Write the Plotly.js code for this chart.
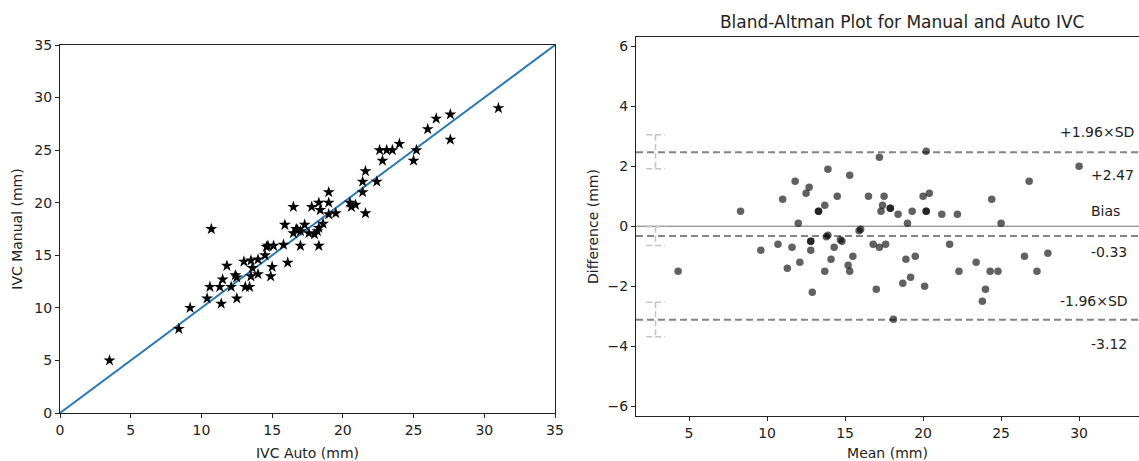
<!DOCTYPE html>
<html>
<head>
<meta charset="utf-8">
<script src="https://cdn.plot.ly/plotly-3.0.1.min.js"></script>
<style>html,body{margin:0;padding:0;background:#fff;}#chart{width:1139px;height:461px;}</style>
</head>
<body>
<div id="chart"></div>
<script>
// Left panel: IVC Auto vs IVC Manual (mm)
const autoVals = [3.5, 8.4, 9.2, 10.7, 10.4, 11.4, 10.6, 11.3, 11.5, 11.8, 12.1, 12.5, 12.4, 12.5, 13.0, 13.1, 13.4, 13.5, 13.5, 13.6, 14.0, 14.0, 14.6, 14.7, 15.1, 14.5, 14.9, 15.0, 15.8, 16.1, 15.9, 16.5, 16.5, 16.8, 17.0, 17.3, 17.6, 17.8, 18.3, 18.4, 19.0, 19.0, 19.5, 19.0, 18.0, 18.2, 18.3, 18.3, 18.6, 20.5, 20.6, 20.9, 21.6, 21.4, 21.4, 21.6, 22.4, 22.6, 23.1, 23.5, 22.8, 24.0, 25.2, 25.0, 26.0, 26.6, 27.6, 27.6, 31.0, 17.0, 16.7];
const manualVals = [5.0, 8.0, 10.0, 17.5, 10.9, 10.4, 12.0, 12.0, 12.7, 14.0, 12.0, 10.9, 13.1, 12.9, 14.4, 12.0, 12.0, 13.0, 14.5, 13.8, 14.6, 13.2, 15.8, 15.9, 15.9, 15.0, 13.0, 13.9, 16.0, 14.3, 17.9, 19.6, 17.1, 17.4, 15.9, 17.9, 17.1, 19.6, 20.0, 19.3, 21.0, 20.0, 19.0, 18.9, 17.0, 17.3, 17.6, 15.9, 18.0, 20.0, 19.6, 19.8, 19.0, 21.0, 22.0, 23.0, 22.0, 25.0, 25.0, 25.0, 24.0, 25.6, 25.0, 24.0, 27.0, 28.0, 28.4, 26.0, 29.0, 17.3, 17.5];
const identityLine = [0, 35];

// Right panel: Bland-Altman
const meanVals = [4.3, 8.3, 9.6, 10.7, 11.0, 11.3, 11.6, 11.8, 12.0, 12.1, 12.5, 12.7, 12.8, 12.8, 12.8, 12.9, 13.3, 13.3, 13.7, 13.7, 13.8, 13.9, 13.9, 14.1, 14.3, 14.5, 14.7, 14.8, 15.2, 15.3, 15.3, 15.5, 15.9, 16.0, 16.5, 16.8, 17.0, 17.2, 17.2, 17.3, 17.4, 17.5, 17.6, 17.9, 17.9, 18.1, 18.4, 18.7, 18.9, 19.0, 19.2, 19.3, 19.5, 20.0, 20.1, 20.2, 20.2, 20.2, 20.4, 21.2, 21.7, 22.2, 22.3, 23.4, 23.8, 24.0, 24.3, 24.4, 24.8, 25.0, 26.5, 26.8, 27.3, 28.0, 30.0];
const diffVals = [-1.5, 0.5, -0.8, -0.6, 0.9, -1.4, -0.7, 1.5, 0.1, -1.2, 1.1, 1.3, -0.5, -0.5, -0.8, -2.2, 0.5, 0.5, 0.7, -1.5, -0.35, -0.3, 1.9, -1.1, -0.7, 1.0, -0.45, -0.5, -1.3, -1.5, 1.7, -1.0, -0.15, -0.1, 1.0, -0.6, -2.1, 2.3, -0.7, 0.5, 0.7, 1.0, -0.6, 0.6, 0.6, -3.1, 0.4, -1.9, -1.1, 0.1, -1.7, 0.5, -1.0, 1.0, -2.0, 2.5, 0.5, 0.5, 1.1, 0.4, -0.6, 0.4, -1.5, -1.2, -2.5, -2.1, -1.5, 0.9, -1.5, 0.1, -1.0, 1.5, -1.5, -0.9, 2.0];
const limitNames = ["+1.96×SD", "Bias", "-1.96×SD"];
const limitVals = [2.47, -0.33, -3.12];
const limitLabels = ["+2.47", "-0.33", "-3.12"];
const ciLow = [1.92, -0.64, -3.69];
const ciHigh = [3.05, -0.02, -2.54];
const ciX = 2.85;

const FONT = "DejaVu Sans, Verdana, sans-serif";
const TXT = "#222";

// CI brackets
const capHalf = 0.6;
const bx = [], by = [];
for (let i = 0; i < ciLow.length; i++) {
  bx.push(ciX - capHalf, ciX + capHalf, null, ciX, ciX, null, ciX - capHalf, ciX + capHalf, null);
  by.push(ciHigh[i], ciHigh[i], null, ciHigh[i], ciLow[i], null, ciLow[i], ciLow[i], null);
}

const traces = [
  {x: identityLine, y: identityLine, mode: "lines", line: {color: "#2a7ab9", width: 2}, xaxis: "x", yaxis: "y", hoverinfo: "skip"},
  {x: autoVals, y: manualVals, mode: "markers", marker: {symbol: "star", size: 9, color: "#000"}, xaxis: "x", yaxis: "y"},
  {x: bx, y: by, mode: "lines", line: {color: "#c4c4c4", width: 1.5, dash: "6px,3px"}, xaxis: "x2", yaxis: "y2", hoverinfo: "skip"},
  {x: meanVals, y: diffVals, mode: "markers", marker: {symbol: "circle", size: 7.5, color: "rgba(0,0,0,0.62)"}, xaxis: "x2", yaxis: "y2"}
];

const shapes = limitVals.map(v => ({
  type: "line", xref: "x2 domain", x0: 0, x1: 1, yref: "y2", y0: v, y1: v,
  line: {color: "#858585", width: 2, dash: "7px,4px"}, layer: "below"
}));
shapes.push({type: "line", xref: "x2 domain", x0: 0, x1: 1, yref: "y2", y0: 0, y1: 0,
  line: {color: "#6e6e6e", width: 1}, layer: "below"});

const nameShift = [20, 25, 19];
const valShift = [-23, -16, -24];
const annotations = [];
for (let i = 0; i < limitVals.length; i++) {
  annotations.push({xref: "x2", yref: "y2", x: i === 1 ? 30.64 : 28.68, y: limitVals[i], yshift: nameShift[i],
    text: limitNames[i], showarrow: false, xanchor: "left", yanchor: "middle", font: {family: FONT, size: 14, color: TXT}});
  annotations.push({xref: "x2", yref: "y2", x: 30.64, y: limitVals[i], yshift: valShift[i],
    text: limitLabels[i], showarrow: false, xanchor: "left", yanchor: "middle", font: {family: FONT, size: 14, color: TXT}});
}

const axCommon = {
  showgrid: false, zeroline: false, showline: true, linecolor: "#222", linewidth: 1,
  ticks: "outside", ticklen: 4, tickcolor: "#222", tickwidth: 1,
  tickfont: {family: FONT, size: 14, color: TXT}, automargin: false
};

const layout = {
  width: 1139, height: 461,
  margin: {l: 60, r: 0, t: 37, b: 45},
  paper_bgcolor: "#fff", plot_bgcolor: "#fff",
  showlegend: false,
  font: {family: FONT, color: TXT},
  title: {text: "Bland-Altman Plot for Manual and Auto IVC", font: {family: FONT, size: 17, color: TXT},
    x: 889/1139, xanchor: "center", xref: "paper", y: 1 - 22/461, yanchor: "middle", yref: "container"},
  xaxis: Object.assign({}, axCommon, {domain: [0, 0.45876], range: [0, 35], tickvals: [0,5,10,15,20,25,30,35], mirror: true, anchor: "y",
    title: {text: "IVC Auto (mm)", font: {family: FONT, size: 14, color: TXT}}}),
  yaxis: Object.assign({}, axCommon, {domain: [0.00792, 0.97889], range: [0, 35], tickvals: [0,5,10,15,20,25,30,35], mirror: true, anchor: "x",
    title: {text: "IVC Manual (mm)", font: {family: FONT, size: 14, color: TXT}}}),
  xaxis2: Object.assign({}, axCommon, {domain: [0.53383, 1], range: [1.6, 33.84], tickvals: [5,10,15,20,25,30], mirror: true, anchor: "y2",
    title: {text: "Mean (mm)", font: {family: FONT, size: 14, color: TXT}}}),
  yaxis2: Object.assign({}, axCommon, {domain: [0, 1], range: [-6.33, 6.31], tickvals: [-6,-4,-2,0,2,4,6], ticktext: ["\u22126","\u22124","\u22122","0","2","4","6"], anchor: "x2",
    title: {text: "Difference (mm)", font: {family: FONT, size: 14, color: TXT}}}),
  shapes: shapes,
  annotations: annotations
};

Plotly.newPlot("chart", traces, layout, {staticPlot: true, displayModeBar: false});
</script>
</body>
</html>
